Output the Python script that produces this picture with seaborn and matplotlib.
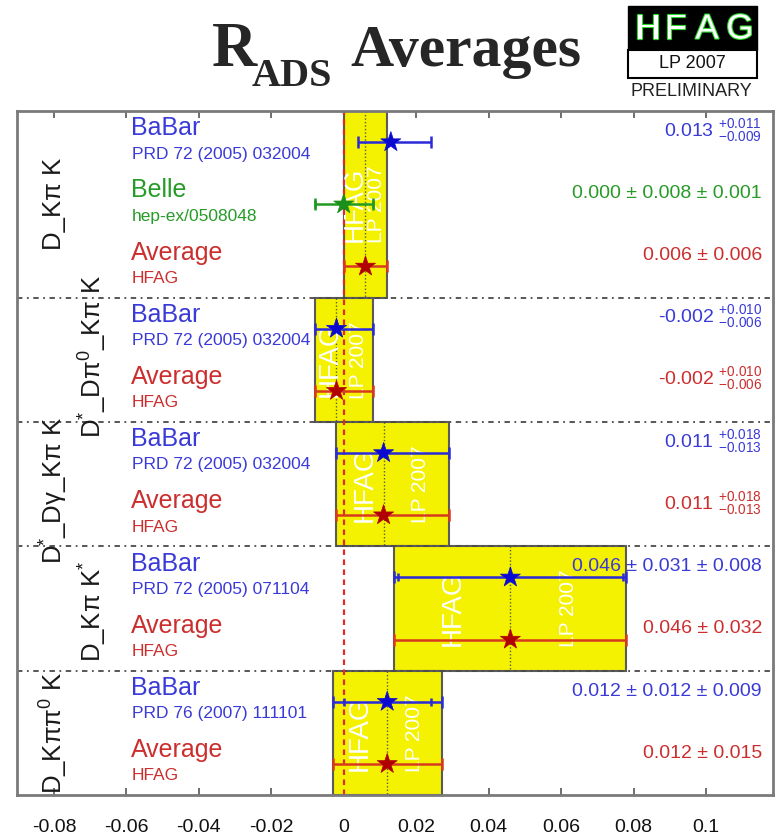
import numpy as np
import pandas as pd
import matplotlib
matplotlib.use("Agg")
import matplotlib.pyplot as plt
import seaborn as sns
from matplotlib.patches import Rectangle
from matplotlib import patheffects
import matplotlib.transforms as mtransforms

# ---- data -------------------------------------------------------------
section_labels = ["D_Kπ K", "$D^{*}$_D$π^{0}$_Kπ K", "$D^{*}$_Dγ_Kπ K",
                  "D_Kπ $K^{*}$", "D_Kπ$π^{0}$ K"]
section_sizes = [3, 2, 2, 2, 2]

experiments = ["BaBar", "Belle", "Average",
               "BaBar", "Average",
               "BaBar", "Average",
               "BaBar", "Average",
               "BaBar", "Average"]
references = ["PRD 72 (2005) 032004", "hep-ex/0508048", "HFAG",
              "PRD 72 (2005) 032004", "HFAG",
              "PRD 72 (2005) 032004", "HFAG",
              "PRD 72 (2005) 071104", "HFAG",
              "PRD 76 (2007) 111101", "HFAG"]
values = [0.013, 0.000, 0.006,
          -0.002, -0.002,
          0.011, 0.011,
          0.046, 0.046,
          0.012, 0.012]
stat_plus = [0.011, 0.008, 0.006,
             0.010, 0.010,
             0.018, 0.018,
             0.031, 0.032,
             0.012, 0.015]
stat_minus = [0.009, 0.008, 0.006,
              0.006, 0.006,
              0.013, 0.013,
              0.031, 0.032,
              0.012, 0.015]
syst = [0.0, 0.001, 0.0,
        0.0, 0.0,
        0.0, 0.0,
        0.008, 0.0,
        0.009, 0.0]

x_ticks = [-0.08, -0.06, -0.04, -0.02, 0.0, 0.02, 0.04, 0.06, 0.08, 0.1]
x_tick_labels = ["-0.08", "-0.06", "-0.04", "-0.02", "0",
                 "0.02", "0.04", "0.06", "0.08", "0.1"]

# ---- styling ----------------------------------------------------------
sns.set_theme(style="white")
plt.rcParams["font.family"] = ["Liberation Sans", "DejaVu Sans"]
plt.rcParams["mathtext.fontset"] = "custom"
plt.rcParams["mathtext.rm"] = "Liberation Sans"
plt.rcParams["mathtext.default"] = "regular"

marker_colors = {"BaBar": "#0a0ad0", "Belle": "#1a8f1a", "Average": "#b00000"}
bar_colors = {"BaBar": "#2a2ad8", "Belle": "#229a22", "Average": "#d83a1e"}
text_colors = {"BaBar": "#3a3ad8", "Belle": "#279b27", "Average": "#cc2e2e"}
band_yellow = "#f4f200"

W, H = 782, 839
fig = plt.figure(figsize=(W / 100, H / 100), dpi=100)
left, right, top, bottom = 17, 773, 111, 795
ax = fig.add_axes([left / W, 1 - bottom / H, (right - left) / W, (bottom - top) / H])

n_rows = len(values)
rows = np.arange(n_rows) + 0.5
df = pd.DataFrame({
    "experiment": experiments,
    "reference": references,
    "value": values,
    "plus": np.sqrt(np.array(stat_plus) ** 2 + np.array(syst) ** 2),
    "minus": np.sqrt(np.array(stat_minus) ** 2 + np.array(syst) ** 2),
    "row": rows,
})

ax.set_xlim(-0.0902, 0.1185)
ax.set_ylim(n_rows, 0)

# section boundaries and averaged bands
starts = np.concatenate([[0], np.cumsum(section_sizes)[:-1]])
label_x = [0.049, 0.100, 0.049, 0.100, 0.049]
label_dy = [0.0, -0.05, 0.1, 0.05, 0.0]
for s, (st, size) in enumerate(zip(starts, section_sizes)):
    avg = st + size - 1
    lo = values[avg] - stat_minus[avg]
    hi = values[avg] + stat_plus[avg]
    ax.add_patch(Rectangle((lo, st), hi - lo, size, facecolor=band_yellow,
                           edgecolor="#5a5a5a", lw=1.5, zorder=1))
    ax.plot([values[avg], values[avg]], [st, st + size], color="#5c5c3c",
            ls=(0, (1, 1.5)), lw=1.0, zorder=2)
    ymid = st + size / 2
    ax.text(lo + 0.25 * (hi - lo), ymid, "HFAG", color="white", fontsize=20,
            rotation=90, ha="center", va="center", zorder=2)
    ax.text(lo + 0.75 * (hi - lo), ymid, "LP 2007", color="white", fontsize=15,
            rotation=90, ha="center", va="center", zorder=2)
    if st > 0:
        ax.axhline(st, color="#4a4a4a", ls=(0, (3, 2.5, 1, 2.5)), lw=1.3, zorder=3)
    blend = mtransforms.blended_transform_factory(ax.transAxes, ax.transData)
    ax.text(label_x[s], ymid + label_dy[s], section_labels[s], transform=blend,
            rotation=90, ha="center", va="center", fontsize=18.5,
            color="#1a1a1a", zorder=6)

# reference line at zero
ax.axvline(0, color="#e02a2a", ls=(0, (2.5, 2)), lw=1.6, zorder=3)

# error bars (total) and statistical ticks
for exp in ["BaBar", "Belle", "Average"]:
    d = df[df["experiment"] == exp]
    ax.errorbar(d["value"], d["row"], xerr=[d["minus"], d["plus"]], fmt="none",
                ecolor=bar_colors[exp], elinewidth=1.8, capsize=4.5,
                capthick=1.8, zorder=4)
sys_mask = np.array(syst) > 0
for i in np.where(sys_mask)[0]:
    ax.errorbar([values[i]], [rows[i]], xerr=[[stat_minus[i]], [stat_plus[i]]],
                fmt="none", ecolor=bar_colors[experiments[i]], elinewidth=0,
                capsize=3, capthick=1.8, zorder=4)

sns.scatterplot(data=df, x="value", y="row", hue="experiment",
                palette=marker_colors, marker="*", s=230, linewidth=0.5,
                edgecolor=None, legend=False, ax=ax, zorder=5)
for coll in ax.collections[-1:]:
    coll.set_edgecolors(coll.get_facecolors())

# experiment names, references and quoted values
blend = mtransforms.blended_transform_factory(ax.transAxes, ax.transData)
val_x = (762 - left) / (right - left)
for i in range(n_rows):
    exp = experiments[i]
    c = text_colors[exp]
    ax.text(0.1508, i + 0.39, exp, transform=blend, fontsize=18, color=c,
            ha="left", va="baseline", zorder=6)
    ax.text(0.152, i + 0.765, references[i], transform=blend, fontsize=12.5,
            color=c, ha="left", va="baseline", zorder=6)
    v = values[i]
    if syst[i] > 0:
        s = f"{v:.3f} ± {stat_plus[i]:.3f} ± {syst[i]:.3f}"
    elif stat_plus[i] == stat_minus[i]:
        s = f"{v:.3f} ± {stat_plus[i]:.3f}"
    else:
        s = f"{v:.3f} $^{{+{stat_plus[i]:.3f}}}_{{-{stat_minus[i]:.3f}}}$"
    ax.text(val_x, i + 0.40, s, transform=blend, fontsize=14, color=c,
            ha="right", va="baseline", zorder=6)

# axes cosmetics
ax.set_xticks(x_ticks)
ax.set_xticklabels(x_tick_labels)
ax.set_yticks([])
ax.set_xlabel("")
ax.set_ylabel("")
ax.tick_params(axis="x", direction="in", top=True, bottom=True, length=5,
               width=1.2, color="#555555", labelsize=14, pad=17,
               labelcolor="#111111")
for sp in ax.spines.values():
    sp.set_color("#7a7a7a")
    sp.set_linewidth(2)
    sp.set_zorder(7)

# title
def fx(x):
    return x / W

def fy(y):
    return 1 - y / H

serif = ["Liberation Serif", "DejaVu Serif"]
fig.text(fx(212), fy(66), "R", family=serif, weight="bold", fontsize=45,
         ha="left", va="baseline")
fig.text(fx(252), fy(86), "ADS", family=serif, weight="bold", fontsize=29,
         ha="left", va="baseline")
fig.text(fx(350), fy(66), "Averages", family=serif, weight="bold", fontsize=43,
         ha="left", va="baseline")

# HFAG badge
fig.add_artist(Rectangle((fx(628), fy(50)), 129 / W, 44 / H,
                         transform=fig.transFigure, facecolor="black",
                         edgecolor="black", lw=1))
fig.add_artist(Rectangle((fx(628), fy(78)), 129 / W, 28 / H,
                         transform=fig.transFigure, facecolor="white",
                         edgecolor="black", lw=1.5))
for letter, xc in zip("HFAG", [648, 676, 707, 740]):
    fig.text(fx(xc), fy(29), letter, color="white", fontsize=25,
             ha="center", va="center",
             path_effects=[patheffects.withStroke(linewidth=1.6,
                                                  foreground="#2ad82a")])
fig.text(fx(692), fy(64), "LP 2007", color="#111111", fontsize=13,
         ha="center", va="center")
fig.text(fx(691), fy(91), "PRELIMINARY", color="#222222", fontsize=13,
         ha="center", va="center")

fig.savefig("out.png", dpi=100)
